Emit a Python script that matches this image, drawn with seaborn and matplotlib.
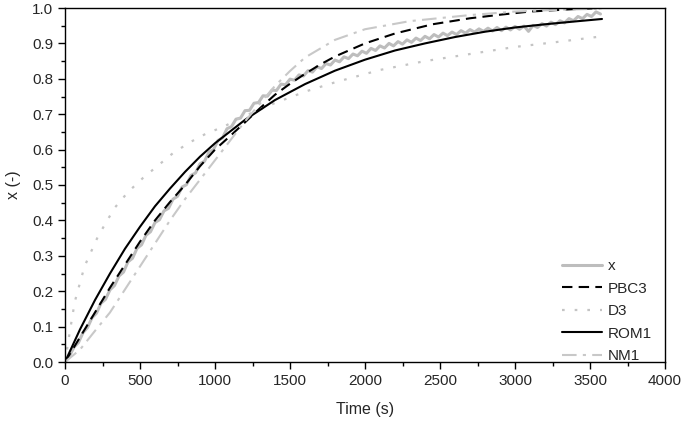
"""
Conversion curves: measured x versus four model fits.
Saves out.png (685x424).
"""

import matplotlib.pyplot as plt
import numpy as np
import seaborn as sns
from matplotlib.ticker import MultipleLocator

# measured x, sampled every 30 s
TIME_X = np.arange(0, 3600, 30)
X_MEAS = [
    0.000, 0.017, 0.042, 0.055, 0.083, 0.097, 0.125, 0.138, 0.166, 0.177,
    0.204, 0.216, 0.243, 0.254, 0.283, 0.293, 0.321, 0.331, 0.358, 0.368,
    0.394, 0.402, 0.427, 0.434, 0.460, 0.468, 0.494, 0.501, 0.527, 0.534,
    0.560, 0.567, 0.593, 0.600, 0.626, 0.633, 0.659, 0.665, 0.686, 0.689,
    0.710, 0.711, 0.731, 0.733, 0.752, 0.751, 0.768, 0.767, 0.785, 0.783,
    0.799, 0.796, 0.811, 0.808, 0.823, 0.819, 0.834, 0.829, 0.843, 0.839,
    0.853, 0.848, 0.862, 0.857, 0.870, 0.865, 0.878, 0.872, 0.886, 0.880,
    0.893, 0.887, 0.900, 0.893, 0.905, 0.898, 0.910, 0.903, 0.915, 0.908,
    0.920, 0.913, 0.925, 0.918, 0.929, 0.922, 0.932, 0.925, 0.936, 0.929,
    0.939, 0.932, 0.941, 0.934, 0.943, 0.935, 0.945, 0.936, 0.946, 0.938,
    0.948, 0.940, 0.949, 0.934, 0.951, 0.945, 0.956, 0.949, 0.960, 0.953,
    0.964, 0.958, 0.970, 0.964, 0.976, 0.970, 0.982, 0.976, 0.989, 0.983,
]

TIME_PBC3 = [0, 100, 200, 300, 400, 500, 600, 700, 800, 900, 1000, 1100, 1200,
             1300, 1400, 1500, 1600, 1700, 1800, 2000, 2200, 2450, 2700, 2900,
             3100, 3400, 3580]
PBC3 = [0.0, 0.07, 0.14, 0.21, 0.275, 0.34, 0.40, 0.452, 0.50, 0.553, 0.60,
        0.638, 0.677, 0.717, 0.755, 0.786, 0.814, 0.84, 0.863, 0.9, 0.928,
        0.954, 0.971, 0.981, 0.99, 0.997, 1.0]

TIME_D3 = [0, 30, 65, 130, 220, 330, 420, 520, 620, 720, 830, 940, 1060, 1170,
           1390, 1610, 1800, 2100, 2400, 2700, 3000, 3300, 3580]
D3 = [0.0, 0.08, 0.17, 0.27, 0.355, 0.435, 0.48, 0.52, 0.555, 0.59, 0.62,
      0.645, 0.665, 0.69, 0.73, 0.765, 0.79, 0.825, 0.85, 0.87, 0.89, 0.905,
      0.92]

TIME_ROM1 = [0, 100, 200, 300, 400, 500, 600, 700, 800, 900, 1000, 1200, 1400,
             1600, 1800, 2000, 2200, 2400, 2600, 2800, 3000, 3200, 3400, 3580]
ROM1 = [0.0, 0.092, 0.175, 0.25, 0.32, 0.382, 0.44, 0.49, 0.537, 0.58, 0.618,
        0.684, 0.74, 0.785, 0.823, 0.854, 0.88, 0.90, 0.918, 0.933, 0.945,
        0.954, 0.962, 0.969]

TIME_NM1 = [0, 100, 200, 300, 400, 500, 600, 700, 800, 900, 1000, 1100, 1200,
            1300, 1400, 1500, 1600, 1800, 2000, 2300, 2700, 3000, 3300, 3580]
NM1 = [0.0, 0.035, 0.088, 0.14, 0.205, 0.27, 0.335, 0.40, 0.46, 0.515, 0.57,
       0.625, 0.68, 0.73, 0.78, 0.822, 0.86, 0.91, 0.94, 0.963, 0.98, 0.99,
       0.995, 0.998]


def main() -> None:
    sns.set_theme(style="ticks")
    plt.rcParams["font.family"] = ["Liberation Sans", "DejaVu Sans"]

    fig, ax = plt.subplots(figsize=(6.85, 4.24), dpi=100)
    fig.subplots_adjust(left=65 / 685, right=665 / 685, bottom=1 - 362 / 424, top=1 - 8 / 424)

    sns.lineplot(x=TIME_X, y=X_MEAS, ax=ax, color="#bdbdbd", linewidth=2.2, label="x")
    sns.lineplot(x=TIME_PBC3, y=PBC3, ax=ax, color="black", linewidth=1.5, label="PBC3")
    ax.lines[-1].set_dashes((5, 3))
    sns.lineplot(x=TIME_D3, y=D3, ax=ax, color="#c4c4c4", linewidth=1.6, label="D3")
    ax.lines[-1].set_dashes((1.2, 4.5))
    sns.lineplot(x=TIME_ROM1, y=ROM1, ax=ax, color="black", linewidth=1.5, label="ROM1")
    sns.lineplot(x=TIME_NM1, y=NM1, ax=ax, color="#c8c8c8", linewidth=1.5, label="NM1")
    ax.lines[-1].set_dashes((7, 3, 1.5, 3))

    ax.set_xlim(0, 4000)
    ax.set_ylim(0, 1.0)
    ax.xaxis.set_major_locator(MultipleLocator(500))
    ax.xaxis.set_minor_locator(MultipleLocator(250))
    ax.yaxis.set_major_locator(MultipleLocator(0.1))
    ax.yaxis.set_minor_locator(MultipleLocator(0.05))
    ax.yaxis.set_major_formatter(plt.FormatStrFormatter("%.1f"))
    ax.tick_params(which="major", direction="out", length=5, width=1, labelsize=11, color="black")
    ax.tick_params(which="minor", direction="out", length=3, width=1, color="black")
    for side in ax.spines.values():
        side.set_visible(True)
        side.set_color("black")
        side.set_linewidth(1)

    ax.set_xlabel("Time (s)", fontsize=11.5, labelpad=10)
    ax.set_ylabel("x (-)", fontsize=11.5, labelpad=8)

    ax.legend(loc="lower right", bbox_to_anchor=(0.988, -0.02), frameon=False,
              fontsize=11, handlelength=2.6, handletextpad=0.35, labelspacing=0.55,
              borderaxespad=0)

    fig.savefig("out.png", dpi=100)
    plt.close(fig)


if __name__ == "__main__":
    main()
